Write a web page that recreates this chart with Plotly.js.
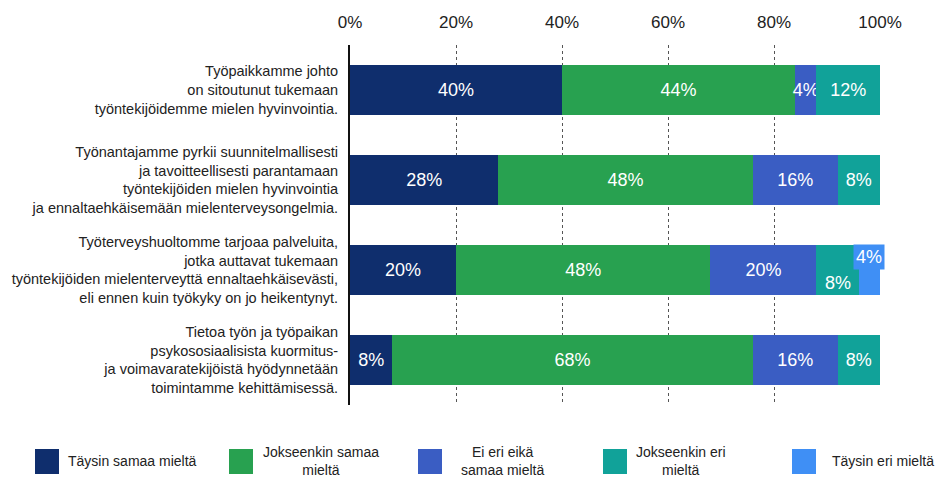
<!DOCTYPE html>
<html><head><meta charset="utf-8">
<script src="https://cdn.plot.ly/plotly-3.0.1.min.js"></script>
<style>html,body{margin:0;padding:0;background:#fff}</style>
</head><body>
<div id="chart" style="width:936px;height:477px"></div>
<script>
// ---- data ----
const categories = [
  'Työpaikkamme johto<br>on sitoutunut tukemaan<br>työntekijöidemme mielen hyvinvointia.',
  'Työnantajamme pyrkii suunnitelmallisesti<br>ja tavoitteellisesti parantamaan<br>työntekijöiden mielen hyvinvointia<br>ja ennaltaehkäisemään mielenterveysongelmia.',
  'Työterveyshuoltomme tarjoaa palveluita,<br>jotka auttavat tukemaan<br>työntekijöiden mielenterveyttä ennaltaehkäisevästi,<br>eli ennen kuin työkyky on jo heikentynyt.',
  'Tietoa työn ja työpaikan<br>psykososiaalisista kuormitus-<br>ja voimavaratekijöistä hyödynnetään<br>toimintamme kehittämisessä.'
];
const seriesNames = ['Täysin samaa mieltä', 'Jokseenkin samaa<br>mieltä', 'Ei eri eikä<br>samaa mieltä', 'Jokseenkin eri<br>mieltä', 'Täysin eri mieltä'];
const seriesColors = ['#0f2e6d', '#28a150', '#3a5dc3', '#11a299', '#3f8ff5'];
const valTaysinSamaa      = [40, 28, 20, 8];
const valJokseenkinSamaa  = [44, 48, 48, 68];
const valEiEriEikaSamaa   = [4, 16, 20, 16];
const valJokseenkinEri    = [12, 8, 8, 8];
const valTaysinEri        = [0, 0, 4, 0];
const tickVals = [0, 20, 40, 60, 80, 100];
const tickText = ['0%', '20%', '40%', '60%', '80%', '100%'];

const seriesValues = [valTaysinSamaa, valJokseenkinSamaa, valEiEriEikaSamaa, valJokseenkinEri, valTaysinEri];

// labels drawn as annotations instead of inside text (series index, row index, vertical shift, boxed)
const shiftedLabels = [
  {s: 3, r: 2, yshift: -13, box: false},
  {s: 4, r: 2, yshift: 13, box: true}
];
function isShifted(s, r) { return shiftedLabels.some(o => o.s === s && o.r === r); }

const traces = seriesValues.map((vals, s) => ({
  type: 'bar',
  orientation: 'h',
  name: seriesNames[s],
  y: categories,
  x: vals,
  marker: {color: seriesColors[s], line: {width: 0}},
  text: vals.map((v, r) => (v > 0 && !isShifted(s, r)) ? v + '%' : ''),
  textposition: 'inside',
  insidetextanchor: 'middle',
  constraintext: 'none',
  textangle: 0,
  textfont: {family: 'Liberation Sans, Arial, sans-serif', size: 18, color: '#ffffff'},
  hoverinfo: 'skip',
  showlegend: false
}));

const annotations = [];
shiftedLabels.forEach(o => {
  let start = 0;
  for (let k = 0; k < o.s; k++) start += seriesValues[k][o.r];
  const v = seriesValues[o.s][o.r];
  annotations.push({
    x: start + v / 2, y: categories[o.r], xref: 'x', yref: 'y',
    text: v + '%', showarrow: false, yshift: o.yshift,
    font: {family: 'Liberation Sans, Arial, sans-serif', size: 18, color: '#ffffff'},
    bgcolor: o.box ? seriesColors[o.s] : 'rgba(0,0,0,0)',
    borderpad: o.box ? 2 : 0
  });
});

// custom legend (pixel placement converted to paper coords)
const L = 350, R = 880, T = 45, B = 405;
const px = p => (p - L) / (R - L);
const py = p => (B - p) / (B - T);
const legendSquareX = [35, 229, 418, 603, 792];
const legendTextX   = [66, 321, 502, 681, 830];
const legendAlign   = ['left', 'center', 'center', 'center', 'left'];
const shapes = [];
seriesNames.forEach((n, s) => {
  shapes.push({type: 'rect', xref: 'paper', yref: 'paper',
    x0: px(legendSquareX[s]), x1: px(legendSquareX[s] + 24),
    y0: py(474), y1: py(449),
    fillcolor: seriesColors[s], line: {width: 0}});
  annotations.push({xref: 'paper', yref: 'paper',
    x: px(legendTextX[s]), y: py(461),
    xanchor: legendAlign[s] === 'left' ? 'left' : 'center', yanchor: 'middle',
    align: 'center',
    text: n, showarrow: false,
    font: {family: 'Liberation Sans, Arial, sans-serif', size: 14, color: '#222'}});
});

const layout = {
  width: 936, height: 477,
  margin: {l: L, r: 936 - R, t: T, b: 477 - B, pad: 0},
  paper_bgcolor: '#ffffff', plot_bgcolor: '#ffffff',
  barmode: 'stack',
  bargap: 0.44,
  showlegend: false,
  font: {family: 'Liberation Sans, Arial, sans-serif', color: '#222'},
  xaxis: {
    side: 'top', range: [0, 100], tickvals: tickVals, ticktext: tickText,
    showgrid: true, gridcolor: '#555', gridwidth: 1, griddash: '3px,3px',
    zeroline: false, showline: false, ticks: '',
    ticklabelstandoff: 13,
    tickfont: {size: 17, color: '#222'}, fixedrange: true
  },
  yaxis: {
    autorange: 'reversed', showgrid: false, zeroline: false,
    showline: true, linecolor: '#111', linewidth: 2, ticks: '',
    ticklabelstandoff: 7,
    tickfont: {size: 14.5, color: '#222'}, fixedrange: true
  },
  shapes: shapes,
  annotations: annotations
};

Plotly.newPlot('chart', traces, layout, {displayModeBar: false, staticPlot: true});
</script>
</body></html>
